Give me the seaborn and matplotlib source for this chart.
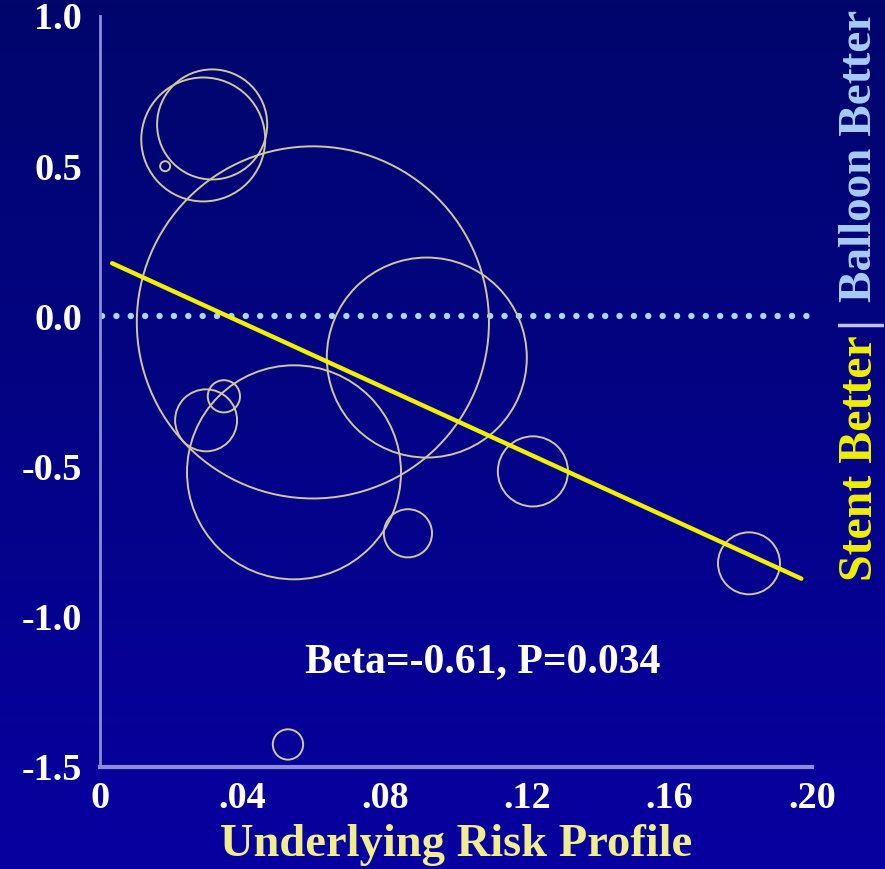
import numpy as np
import pandas as pd
import matplotlib.pyplot as plt
import seaborn as sns
from matplotlib.colors import LinearSegmentedColormap

# -------------------------------
# Data
# -------------------------------
risk = [0.0183, 0.0290, 0.0315, 0.0598, 0.0918, 0.0298, 0.0348, 0.0545, 0.0865, 0.1216, 0.1823, 0.0528]
effect = [0.50, 0.589, 0.639, -0.020, -0.137, -0.346, -0.266, -0.519, -0.722, -0.516, -0.822, -1.425]
weight = [0.25, 38.4, 30.3, 310, 100, 9.6, 2.6, 114.5, 5.8, 12.3, 9.6, 2.3]

# fitted meta-regression line (end points)
fit_x = [0.0034, 0.197]
fit_y = [0.177, -0.873]

x_ticks = [0, 0.04, 0.08, 0.12, 0.16, 0.20]
x_labels = ['0', '.04', '.08', '.12', '.16', '.20']
y_ticks = [1.0, 0.5, 0.0, -0.5, -1.0, -1.5]
y_labels = ['1.0', '0.5', '0.0', '-0.5', '-1.0', '-1.5']

df = pd.DataFrame({'risk': risk, 'effect': effect, 'weight': weight})
fit = pd.DataFrame({'risk': fit_x, 'effect': fit_y})

# -------------------------------
# Style
# -------------------------------
sns.set_style("white")
plt.rcParams['font.family'] = ['Liberation Serif', 'DejaVu Serif']
plt.rcParams['font.weight'] = 'bold'

axis_col = '#8c8cd8'
bubble_col = '#cfc89e'

fig = plt.figure(figsize=(8.85, 8.69), dpi=100)

# gradient background
bg = fig.add_axes([0, 0, 1, 1], zorder=-1)
cmap = LinearSegmentedColormap.from_list('slide', ['#00066c', '#0800a0'])
grad = np.linspace(0, 1, 256).reshape(-1, 1)
bg.imshow(grad, aspect='auto', cmap=cmap, extent=[0, 1, 0, 1], origin='upper')
bg.axis('off')

ax = fig.add_axes([0.11299, 0.11738, 0.80452, 0.86421])
ax.set_facecolor('none')

# -------------------------------
# Bubbles
# -------------------------------
sns.scatterplot(data=df, x='risk', y='effect', size='weight',
                sizes=(0, 207.36 * 310), size_norm=(0, 310),
                legend=False, ax=ax, clip_on=False, zorder=3)
pts = ax.collections[-1]
pts.set_facecolor('none')
pts.set_edgecolor(bubble_col)
pts.set_linewidth(1.4)

# zero reference (dotted)
ax.plot([0.0006, 0.1985], [0, 0], color='#a8d8ff', lw=4.6,
        ls=(0, (0.01, 2.24)), dash_capstyle='round', zorder=2)

# regression line
sns.lineplot(data=fit, x='risk', y='effect', color='#f0f000', lw=3.2, ax=ax, zorder=4)

ax.text(0.1076, -1.152, 'Beta=-0.61, P=0.034', color='white', fontsize=30,
        fontweight='bold', ha='center', va='center')

# -------------------------------
# Axes
# -------------------------------
ax.set_xlim(0, 0.20)
ax.set_ylim(-1.5, 1.0)
ax.set_xticks(x_ticks)
ax.set_xticklabels(x_labels)
ax.set_yticks(y_ticks)
ax.set_yticklabels(y_labels)

for side in ['top', 'right']:
    ax.spines[side].set_visible(False)
ax.spines['left'].set_color(axis_col)
ax.spines['left'].set_linewidth(2)
ax.spines['bottom'].set_color(axis_col)
ax.spines['bottom'].set_linewidth(3)

ax.tick_params(axis='both', colors=axis_col, labelcolor='white', labelsize=27.5,
               length=4, width=1.5, direction='out')
ax.tick_params(axis='x', pad=6)
ax.tick_params(axis='y', pad=9)
ax.set_ylabel('')
ax.set_xlabel('Underlying Risk Profile', color='#f0ee8c', fontsize=33.5,
              fontweight='bold', labelpad=6)

# right side label
fig.text(0.972, 1 - 458.5 / 869, 'Stent Better', color='#f0f000', fontsize=34.5,
         fontweight='bold', rotation=90, ha='center', va='center')
fig.text(0.970, 1 - 321 / 869, '|', color='#c4c4f2', fontsize=36,
         fontweight='bold', rotation=90, ha='center', va='center')
fig.text(0.972, 1 - 156 / 869, 'Balloon Better', color='#a8ccf8', fontsize=34,
         fontweight='bold', rotation=90, ha='center', va='center')

fig.savefig('out.png', dpi=100)
